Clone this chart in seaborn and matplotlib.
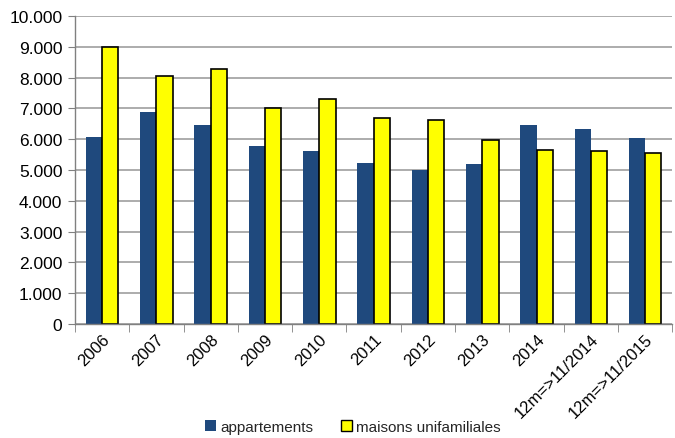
import matplotlib
matplotlib.use("Agg")
import matplotlib.pyplot as plt
import matplotlib.ticker as mticker
import seaborn as sns
import pandas as pd

periods = ["2006", "2007", "2008", "2009", "2010", "2011", "2012", "2013", "2014",
           "12m=>11/2014", "12m=>11/2015"]
appartements = [6060, 6870, 6460, 5790, 5610, 5230, 4990, 5190, 6460, 6330, 6040]
maisons = [8990, 8060, 8290, 7000, 7320, 6690, 6610, 5980, 5640, 5620, 5550]
series_names = ["appartements", "maisons unifamiliales"]
colors = ["#1F497D", "#FFFF00"]

df = pd.DataFrame({
    "period": periods * 2,
    "value": appartements + maisons,
    "type": [series_names[0]] * len(periods) + [series_names[1]] * len(periods),
})

sns.set_style("white")
plt.rcParams["font.family"] = ["Liberation Sans", "DejaVu Sans"]

fig = plt.figure(figsize=(6.75, 4.39), dpi=100)
ax = fig.add_axes([0.111, 0.26, 0.885, 0.701])

sns.barplot(data=df, x="period", y="value", hue="type", order=periods,
            hue_order=series_names, palette=colors, width=0.6, gap=0,
            saturation=1, linewidth=0, ax=ax, legend=True)

for bar in ax.containers[1]:
    bar.set_edgecolor("black")
    bar.set_linewidth(1.2)

ax.set_ylim(0, 10000)
ax.set_xlim(-0.5, len(periods) - 0.5)
ax.yaxis.set_major_locator(mticker.MultipleLocator(1000))
ax.yaxis.set_major_formatter(mticker.FuncFormatter(lambda v, p: f"{int(v):,}".replace(",", ".")))
ax.grid(axis="y", color="#A6A6A6", linewidth=1.3)
ax.set_axisbelow(True)

for s in ["top", "right"]:
    ax.spines[s].set_visible(False)
for s in ["left", "bottom"]:
    ax.spines[s].set_color("#808080")
    ax.spines[s].set_linewidth(1.0)

ax.tick_params(axis="y", which="major", left=True, length=5, color="#808080",
               labelsize=12.5, pad=4, labelcolor="black")
ax.tick_params(axis="x", which="major", bottom=False, labelsize=12, pad=2,
               labelcolor="black")
ax.set_xticks([i - 0.5 for i in range(len(periods) + 1)], minor=True)
ax.tick_params(axis="x", which="minor", bottom=True, length=6, color="#808080")
plt.setp(ax.get_xticklabels(), rotation=45, ha="right", rotation_mode="anchor")

ax.set_xlabel("")
ax.set_ylabel("")

ax.get_legend().remove()
handles = [plt.Rectangle((0, 0), 1, 1, facecolor=colors[0], edgecolor="none"),
           plt.Rectangle((0, 0), 1, 1, facecolor=colors[1], edgecolor="black", linewidth=1)]
fig.legend(handles, series_names, loc="center", bbox_to_anchor=(0.523, 0.025),
           ncol=2, frameon=False, fontsize=11, handlelength=0.7, handleheight=0.7,
           handletextpad=0.3, columnspacing=1.8)

fig.savefig("out.png", dpi=100)
